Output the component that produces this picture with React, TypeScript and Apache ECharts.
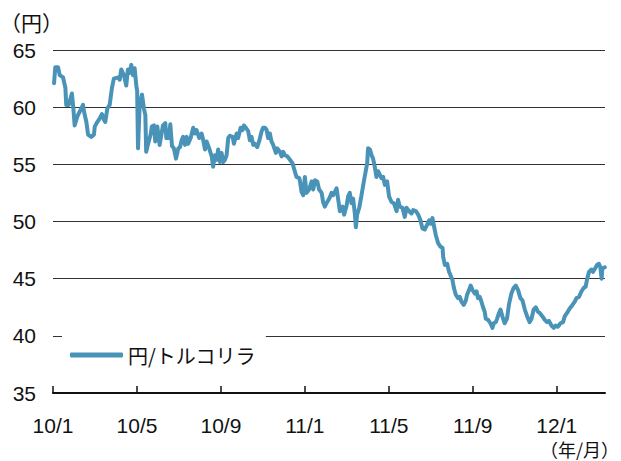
import React, { useEffect, useRef } from "react";
import * as echarts from "echarts";

// months since 2010/1 (0 = 10/1)
const monthIndex: number[] = [
  0.05, 0.11, 0.24, 0.32, 0.48, 0.59, 0.63, 0.75, 0.84, 0.9, 0.97, 1.03, 1.16, 1.27, 1.35, 1.43, 1.48, 1.59, 1.67, 1.82,
  1.95, 1.99, 2.11, 2.22, 2.33, 2.43, 2.49, 2.59, 2.7, 2.81, 2.9, 3.1, 3.18, 3.25, 3.38, 3.49, 3.57, 3.65, 3.73, 3.81,
  3.89, 3.97, 4.01, 4.05, 4.13, 4.24, 4.33, 4.4, 4.44, 4.52, 4.65, 4.71, 4.81, 4.87, 4.97, 5.08, 5.24, 5.35, 5.4, 5.51,
  5.59, 5.67, 5.76, 5.86, 5.97, 6.05, 6.13, 6.2, 6.29, 6.37, 6.44, 6.56, 6.68, 6.76, 6.84, 6.97, 7.08, 7.16, 7.24, 7.32,
  7.44, 7.56, 7.63, 7.71, 7.8, 7.87, 7.95, 8.03, 8.11, 8.19, 8.27, 8.35, 8.43, 8.56, 8.62, 8.75, 8.82, 8.94, 9.03, 9.1,
  9.19, 9.3, 9.38, 9.46, 9.54, 9.62, 9.73, 9.82, 9.94, 10.01, 10.1, 10.18, 10.25, 10.33, 10.41, 10.49, 10.62, 10.68, 10.81, 10.89,
  10.97, 11.05, 11.16, 11.29, 11.41, 11.52, 11.6, 11.73, 11.76, 11.84, 11.92, 12.0, 12.08, 12.2, 12.32, 12.4, 12.48, 12.59, 12.68, 12.8,
  12.87, 12.95, 13.03, 13.16, 13.27, 13.35, 13.43, 13.51, 13.59, 13.67, 13.8, 13.87, 13.99, 14.06, 14.14, 14.22, 14.3, 14.38, 14.43, 14.49,
  14.59, 14.7, 14.81, 14.9, 14.97, 15.01, 15.1, 15.18, 15.25, 15.33, 15.41, 15.49, 15.57, 15.65, 15.73, 15.81, 15.92, 16.01, 16.13, 16.24,
  16.37, 16.44, 16.52, 16.65, 16.76, 16.84, 16.97, 17.08, 17.16, 17.29, 17.4, 17.51, 17.6, 17.71, 17.82, 17.92, 17.99, 18.08, 18.14, 18.24,
  18.35, 18.46, 18.56, 18.59, 18.67, 18.78, 18.87, 18.94, 19.03, 19.1, 19.19, 19.3, 19.38, 19.46, 19.57, 19.67, 19.73, 19.82, 19.9, 19.99,
  20.1, 20.18, 20.25, 20.33, 20.41, 20.49, 20.57, 20.62, 20.73, 20.84, 20.94, 21.0, 21.1, 21.16, 21.25, 21.32, 21.41, 21.52, 21.63, 21.73,
  21.84, 21.95, 22.05, 22.16, 22.27, 22.37, 22.48, 22.59, 22.71, 22.8, 22.9, 23.0, 23.11, 23.19, 23.32, 23.43, 23.54, 23.63, 23.75, 23.86,
  23.95, 24.06, 24.18, 24.3, 24.38, 24.49, 24.62, 24.75, 24.86, 24.94, 25.06, 25.18, 25.29, 25.38, 25.44, 25.54, 25.65, 25.73, 25.86, 25.92,
  26.01, 26.08, 26.14, 26.17, 26.29,
];

// 円/トルコリラ (円)
const jpyTry: number[] = [
  62.1, 63.5, 63.5, 62.8, 62.6, 61.7, 60.2, 60.2, 60.8, 61.2, 59.9, 58.4, 59.2, 59.6, 59.9, 60.2, 59.6, 58.7, 57.6, 57.4,
  57.6, 58.3, 58.7, 59.0, 59.4, 58.9, 58.7, 59.9, 60.2, 61.7, 62.5, 62.6, 62.4, 63.3, 62.8, 61.9, 63.3, 63.0, 63.7, 62.8,
  63.4, 61.9, 61.4, 56.4, 60.2, 61.1, 59.9, 59.3, 56.1, 56.7, 57.6, 58.3, 58.4, 57.0, 58.3, 56.7, 58.4, 58.6, 57.3, 57.3,
  58.5, 56.6, 56.4, 55.5, 56.4, 56.5, 57.1, 57.4, 56.7, 57.4, 56.8, 57.3, 58.2, 57.7, 58.0, 57.3, 57.7, 57.1, 56.3, 57.0,
  56.4, 55.7, 54.8, 55.8, 55.4, 56.3, 55.2, 56.0, 55.2, 55.4, 55.8, 57.3, 57.5, 57.4, 56.8, 57.7, 57.3, 58.2, 58.0, 58.4,
  58.2, 57.9, 57.1, 57.4, 56.7, 56.8, 56.5, 57.0, 57.9, 58.2, 58.2, 58.0, 57.3, 57.7, 57.0, 56.7, 56.0, 56.4, 56.1, 55.7,
  56.1, 55.8, 55.7, 55.4, 55.1, 54.4, 53.9, 53.8, 53.6, 52.6, 52.3, 53.9, 52.5, 52.8, 53.5, 52.8, 53.6, 53.5, 52.8, 52.5,
  51.7, 51.3, 51.6, 52.0, 52.5, 52.3, 52.6, 52.9, 51.9, 50.9, 51.3, 50.6, 51.4, 52.2, 52.5, 51.6, 52.0, 50.7, 49.5, 50.6,
  51.2, 52.3, 53.5, 54.4, 55.1, 56.4, 56.3, 55.8, 55.5, 54.8, 53.9, 54.4, 54.1, 53.8, 53.9, 53.2, 53.5, 52.2, 51.7, 51.6,
  50.9, 51.9, 51.3, 51.2, 50.4, 51.2, 50.9, 50.7, 51.0, 50.9, 50.6, 50.1, 49.4, 49.3, 49.7, 50.1, 49.8, 50.3, 49.7, 48.8,
  48.1, 47.8, 47.7, 46.9, 46.2, 46.3, 45.6, 45.3, 44.9, 44.2, 43.6, 43.3, 43.4, 43.0, 42.7, 43.1, 43.6, 44.0, 44.4, 44.0,
  43.7, 43.9, 43.3, 43.4, 43.0, 42.5, 42.1, 41.5, 41.4, 41.1, 40.7, 41.1, 41.2, 41.5, 42.0, 42.3, 41.7, 41.1, 41.5, 42.8,
  43.7, 44.2, 44.4, 44.0, 43.3, 43.1, 42.3, 41.7, 41.2, 41.5, 42.3, 42.5, 42.1, 42.0, 41.7, 41.4, 41.2, 41.3, 40.9, 40.7,
  40.9, 40.8, 41.1, 41.2, 41.7, 42.0, 42.4, 42.7, 43.0, 43.3, 43.4, 43.9, 44.2, 44.3, 44.9, 45.6, 45.8, 45.6, 46.0, 46.2,
  46.3, 46.0, 45.0, 45.9, 46.0,
];

const xTickMonths: number[] = [0, 4, 8, 12, 16, 20, 24];
const xTickLabels: string[] = ["10/1", "10/5", "10/9", "11/1", "11/5", "11/9", "12/1"];
const seriesName = "円/トルコリラ";

const FONT = "'Liberation Sans', Arial, 'Noto Sans CJK JP', sans-serif";
const JFONT = "'Noto Sans CJK JP', 'Liberation Sans', sans-serif";

export default function App() {
  const ref = useRef<HTMLDivElement>(null);
  useEffect(() => {
    if (!ref.current) return;
    const chart = echarts.init(ref.current, undefined, { renderer: "svg" });
    const data = monthIndex.map((m, i) => [m, jpyTry[i]]);
    chart.setOption({
      animation: false,
      backgroundColor: "#fff",
      grid: { left: 53, top: 50, right: 16, bottom: 68 },
      legend: {
        data: [seriesName],
        left: 62,
        top: 333,
        padding: [12, 10, 6, 8],
        backgroundColor: "#fff",
        icon: "roundRect",
        itemWidth: 53,
        itemHeight: 5,
        textStyle: { fontSize: 20, color: "#111", fontFamily: JFONT },
      },
      xAxis: {
        type: "value",
        min: 0,
        max: 26.3,
        interval: 4,
        splitLine: { show: false },
        axisLine: { show: true, onZero: false, lineStyle: { color: "#111", width: 2 } },
        axisTick: {
          show: true,
          inside: true,
          length: 7,
          customValues: xTickMonths,
          lineStyle: { color: "#111", width: 1.5 },
        },
        axisLabel: {
          customValues: xTickMonths,
          margin: 22,
          fontSize: 21,
          color: "#111",
          fontFamily: FONT,
          formatter: (v: number) => {
            const i = xTickMonths.indexOf(Math.round(v));
            return i >= 0 && Math.abs(v - xTickMonths[i]) < 1e-6 ? xTickLabels[i] : "";
          },
        },
      },
      yAxis: {
        type: "value",
        min: 35,
        max: 65,
        interval: 5,
        axisLine: { show: false },
        axisTick: { show: false },
        splitLine: { show: true, lineStyle: { color: "#333", width: 1 } },
        axisLabel: { margin: 17, fontSize: 21, color: "#111", fontFamily: FONT },
      },
      graphic: [
        {
          type: "text",
          x: 0,
          y: 22,
          style: {
            text: "（円）",
            fontSize: 21,
            fill: "#111",
            fontFamily: JFONT,
            textAlign: "left",
            textVerticalAlign: "middle",
          },
        },
        {
          type: "text",
          x: 619,
          y: 449,
          style: {
            text: "（年/月）",
            fontSize: 18,
            fill: "#111",
            fontFamily: JFONT,
            textAlign: "right",
            textVerticalAlign: "middle",
          },
        },
      ],
      series: [
        {
          name: seriesName,
          type: "line",
          data,
          symbol: "none",
          smooth: false,
          lineStyle: { color: "#4a93b8", width: 4, cap: "round", join: "round" },
          itemStyle: { color: "#4a93b8" },
          z: 3,
        },
      ],
    });
    return () => chart.dispose();
  }, []);
  return (
    <div
      ref={ref}
      style={{ position: "fixed", left: 0, top: 0, width: 621, height: 461 }}
    />
  );
}
